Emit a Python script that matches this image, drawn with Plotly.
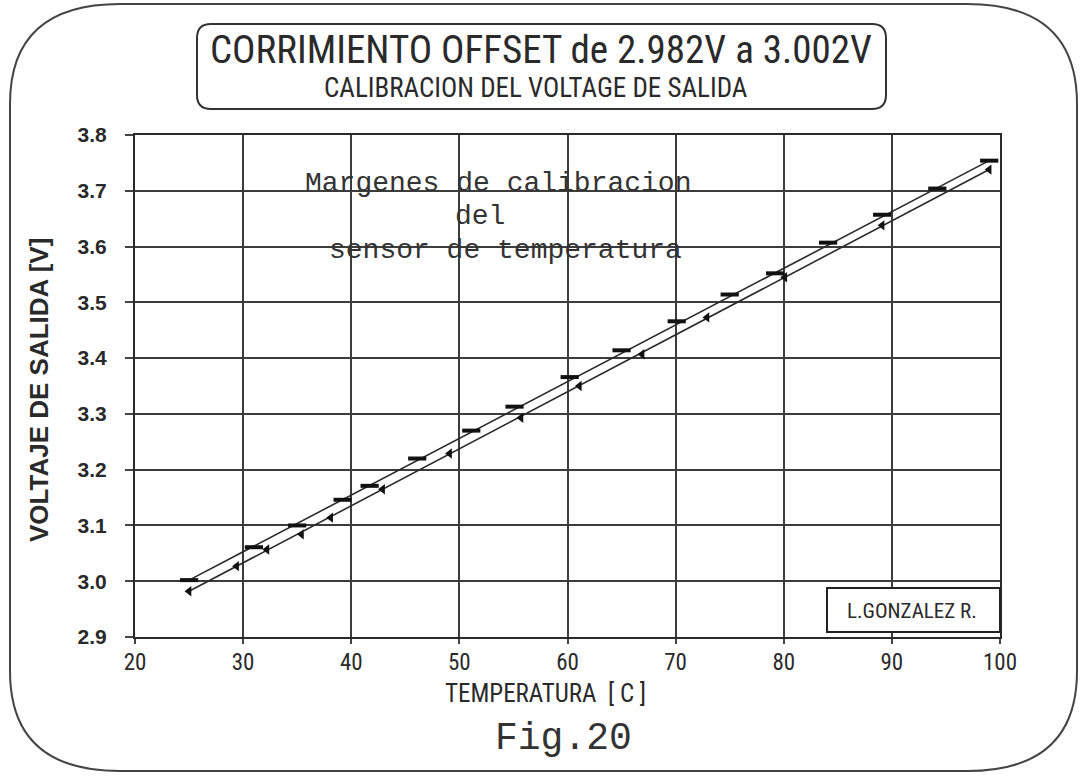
import plotly.graph_objects as go

# Measured output voltage of the temperature sensor (upper and lower calibration limits)
temp_upper = [25.0, 31.0, 35.0, 39.2, 41.7, 46.1, 51.1, 55.1, 60.2, 65.0, 70.1, 75.0, 79.2, 84.1, 89.1, 94.2, 99.0]
volt_upper = [3.002, 3.061, 3.100, 3.146, 3.171, 3.220, 3.270, 3.313, 3.366, 3.414, 3.466, 3.514, 3.552, 3.607, 3.657, 3.704, 3.754]
temp_lower = [25.0, 29.4, 32.2, 35.4, 38.1, 42.9, 49.1, 55.7, 61.1, 66.9, 72.9, 80.1, 89.1, 99.0]
volt_lower = [2.982, 3.027, 3.057, 3.084, 3.114, 3.165, 3.229, 3.293, 3.350, 3.407, 3.473, 3.545, 3.638, 3.738]

x_ticks = [20, 30, 40, 50, 60, 70, 80, 90, 100]
y_ticks = [2.9, 3.0, 3.1, 3.2, 3.3, 3.4, 3.5, 3.6, 3.7, 3.8]

# plot-area geometry in pixels
FIG_W, FIG_H = 1085, 776
L, T, W, H = 135, 135, 865, 502

def px(x):
    return (x - L) / W

def py(y):
    return (T + H - y) / H

def rounded_path(x0, y0, x1, y1, rx, ry):
    pts = [
        ("M", [(x0 + rx, y0)]),
        ("L", [(x1 - rx, y0)]),
        ("Q", [(x1, y0), (x1, y0 + ry)]),
        ("L", [(x1, y1 - ry)]),
        ("Q", [(x1, y1), (x1 - rx, y1)]),
        ("L", [(x0 + rx, y1)]),
        ("Q", [(x0, y1), (x0, y1 - ry)]),
        ("L", [(x0, y0 + ry)]),
        ("Q", [(x0, y0), (x0 + rx, y0)]),
    ]
    out = []
    for cmd, ps in pts:
        out.append(cmd + " " + " ".join(f"{px(a):.5f},{py(b):.5f}" for a, b in ps))
    return " ".join(out) + " Z"

INK = "#2a2a2a"
NARROW = "Liberation Sans Narrow, Roboto Condensed, Arial Narrow, Liberation Sans, sans-serif"
MONO = "Liberation Mono, DejaVu Sans Mono, monospace"
BOLD = "Liberation Sans, Arial, sans-serif"

fig = go.Figure()

# calibration margin lines
fig.add_trace(go.Scatter(x=[temp_upper[0], temp_upper[-1]], y=[volt_upper[0], volt_upper[-1]],
                         mode="lines", line=dict(color=INK, width=1.6), hoverinfo="skip", showlegend=False))
fig.add_trace(go.Scatter(x=[temp_lower[0], temp_lower[-1]], y=[volt_lower[0], volt_lower[-1]],
                         mode="lines", line=dict(color=INK, width=1.6), hoverinfo="skip", showlegend=False))

# measured points
fig.add_trace(go.Scatter(x=temp_upper, y=volt_upper, mode="markers", showlegend=False,
                         marker=dict(symbol="line-ew", size=13, line=dict(color="#111", width=4))))
fig.add_trace(go.Scatter(x=temp_lower, y=volt_lower, mode="markers", showlegend=False,
                         marker=dict(symbol="triangle-left", size=9, color="#111")))

axis_common = dict(showgrid=True, gridcolor="#3c3c3c", gridwidth=1.5, showline=True,
                   linecolor=INK, linewidth=2, mirror=True, ticks="outside",
                   tickcolor="#444", tickwidth=1.5, zeroline=False)

fig.update_xaxes(range=[20, 100], tickvals=x_ticks, ticktext=[str(v) for v in x_ticks],
                 tickfont=dict(family=NARROW, size=23, color=INK), ticklen=5,
                 ticklabelstandoff=-2, **axis_common)
fig.update_yaxes(range=[2.9, 3.8], tickvals=y_ticks, ticktext=[f"{v:.1f}" for v in y_ticks],
                 tickfont=dict(family=BOLD, size=21, color=INK, weight="bold"), ticklen=8,
                 ticklabelstandoff=14, **axis_common)

shapes = [
    dict(type="path", xref="paper", yref="paper", path=rounded_path(10, 4, 1077, 771, 110, 100),
         line=dict(color="#444", width=2), layer="below"),
    dict(type="path", xref="paper", yref="paper", path=rounded_path(197, 24, 886, 109, 14, 14),
         line=dict(color="#333", width=2)),
    dict(type="rect", xref="paper", yref="paper", x0=px(827), x1=px(1000), y0=py(588), y1=py(632),
         fillcolor="white", line=dict(color="#222", width=2), layer="above"),
]

def label(text, x, y, family, size, weight="normal", angle=0, color=INK):
    return dict(text=text, x=px(x), y=py(y), xref="paper", yref="paper", showarrow=False,
                xanchor="center", yanchor="middle", textangle=angle,
                font=dict(family=family, size=size, color=color, weight=weight))

annotations = [
    label("CORRIMIENTO OFFSET de 2.982V a 3.002V", 541, 50, NARROW, 39),
    label("CALIBRACION DEL VOLTAGE DE SALIDA", 536, 88, NARROW, 27),
    label("Margenes de calibracion", 498, 183, MONO, 28, color="#333"),
    label("del", 480, 216, MONO, 28, color="#333"),
    label("sensor de temperatura", 505, 250, MONO, 28, color="#333"),
    label("L.GONZALEZ R.", 912, 611, NARROW, 21),
    label("VOLTAJE DE SALIDA [V]", 39, 390, BOLD, 26, weight="bold", angle=-90),
    label("TEMPERATURA  [ C ]", 545, 693, NARROW, 25),
    label("Fig.20", 563, 738, MONO, 38, color="#333"),
]

fig.update_layout(width=FIG_W, height=FIG_H, autosize=False,
                  margin=dict(l=L, r=FIG_W - L - W, t=T, b=FIG_H - T - H),
                  paper_bgcolor="white", plot_bgcolor="white",
                  shapes=shapes, annotations=annotations, showlegend=False)

fig.write_html("out.html")
